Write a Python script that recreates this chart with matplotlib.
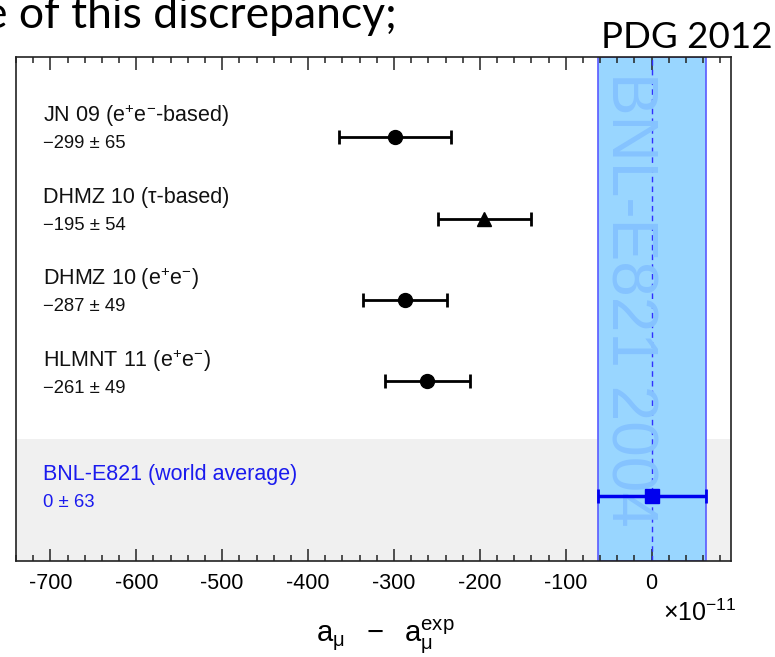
import numpy as np
import matplotlib
matplotlib.use("Agg")
from matplotlib import pyplot as plt

plt.rcParams['font.family'] = ['Liberation Sans', 'DejaVu Sans']
plt.rcParams['mathtext.fontset'] = 'custom'
plt.rcParams['mathtext.rm'] = 'Liberation Sans'
plt.rcParams['mathtext.it'] = 'Liberation Sans:italic'
plt.rcParams['mathtext.bf'] = 'Liberation Sans:bold'
plt.rcParams['axes.unicode_minus'] = False

# theory evaluations, a_mu(SM) - a_mu(exp) in units of 1e-11
names = ['JN 09 (e$^{+}$e$^{-}$-based)', 'DHMZ 10 (\u03c4-based)',
         'DHMZ 10 (e$^{+}$e$^{-}$)', 'HLMNT 11 (e$^{+}$e$^{-}$)']
values = [-299, -195, -287, -261]
errors = [65, 54, 49, 49]
markers = ['o', '^', 'o', 'o']

# experimental reference
ref_name = 'BNL-E821 (world average)'
ref_value = 0
ref_error = 63
band_label = 'BNL-E821 2004'

x_ticks = [-700, -600, -500, -400, -300, -200, -100, 0]

rows = [5.2, 4.2, 3.2, 2.2]
ref_row = 0.8


def fmt_val(v, e):
    s = str(v).replace('-', '\u2212')
    return f"{s} \u00b1 {e}"


fig = plt.figure(figsize=(7.75, 6.57), dpi=100)
ax = fig.add_axes([16 / 775, 1 - 560.7 / 657, (730.7 - 16) / 775, (560.7 - 57.3) / 657])
ax.set_xlim(-740, 92)
ax.set_ylim(0, 6.18)

# grey box behind the experiment row
ax.axhspan(0, 1.5, color='#f0f0f0', lw=0, zorder=0)

# experimental band
ax.axvspan(ref_value - ref_error, ref_value + ref_error, facecolor='#99d6ff',
           edgecolor='#5a5aff', lw=1.2, zorder=1)
ax.axvline(ref_value, color='#3030ff', lw=1, ls=(0, (4, 3)), zorder=2)
ax.text(ref_value - ref_error + 1, 6.0, band_label, rotation=-90, ha='left', va='top',
        fontsize=46, color='#85c3ff', zorder=2)

for y, v, e, m, n in zip(rows, values, errors, markers, names):
    ax.errorbar(v, y, xerr=e, fmt=m, color='k', ms=10, lw=2, capsize=5, capthick=2, zorder=4)
    ax.text(-709, y + 0.26, n, fontsize=15.5, va='center', color='#111111')
    ax.text(-709, y - 0.08, fmt_val(v, e), fontsize=13.3, va='center', color='#111111')

ax.errorbar(ref_value, ref_row, xerr=ref_error, fmt='s', color='#0000ee', ms=10, lw=2.5,
            capsize=5, capthick=2, zorder=4)
ax.text(-709, ref_row + 0.26, ref_name, fontsize=15.5, va='center', color='#1a1aee')
ax.text(-709, ref_row - 0.09, fmt_val(ref_value, ref_error), fontsize=13.3, va='center', color='#1a1aee')

ax.set_xticks(x_ticks)
ax.set_xticklabels([str(t) for t in x_ticks])
ax.set_xticks(np.arange(-740, 92, 20), minor=True)
ax.set_yticks([])
ax.tick_params(axis='x', which='both', direction='in', top=True, bottom=True,
               labelsize=15.5, pad=9, width=1.1, color='#222222')
ax.tick_params(axis='x', which='major', length=9)
ax.tick_params(axis='x', which='minor', length=4.5)
for sp in ax.spines.values():
    sp.set_linewidth(1.2)
    sp.set_color('#222222')
    sp.set_zorder(5)

fig.text(663 / 775, 1 - 613 / 657, r'$\times\mathregular{10^{-11}}$', fontsize=18, va='center')
fig.text(385 / 775, 1 - 637 / 657, '$\\mathregular{a_{\u03bc}\\ \\ -\\ \\ a_{\u03bc}^{exp}}$',
         fontsize=21, ha='center', va='center')

# slide text around the figure
fig.text(0.997, 1 - 48.5 / 657, 'PDG 2012', ha='right', va='baseline', fontsize=26.5, family='Lato')
fig.text(-16 / 775, 1 - 27.5 / 657, 'e of this discrepancy;', ha='left', va='baseline',
         fontsize=32, family='Lato')

fig.savefig('out.png', dpi=100)
